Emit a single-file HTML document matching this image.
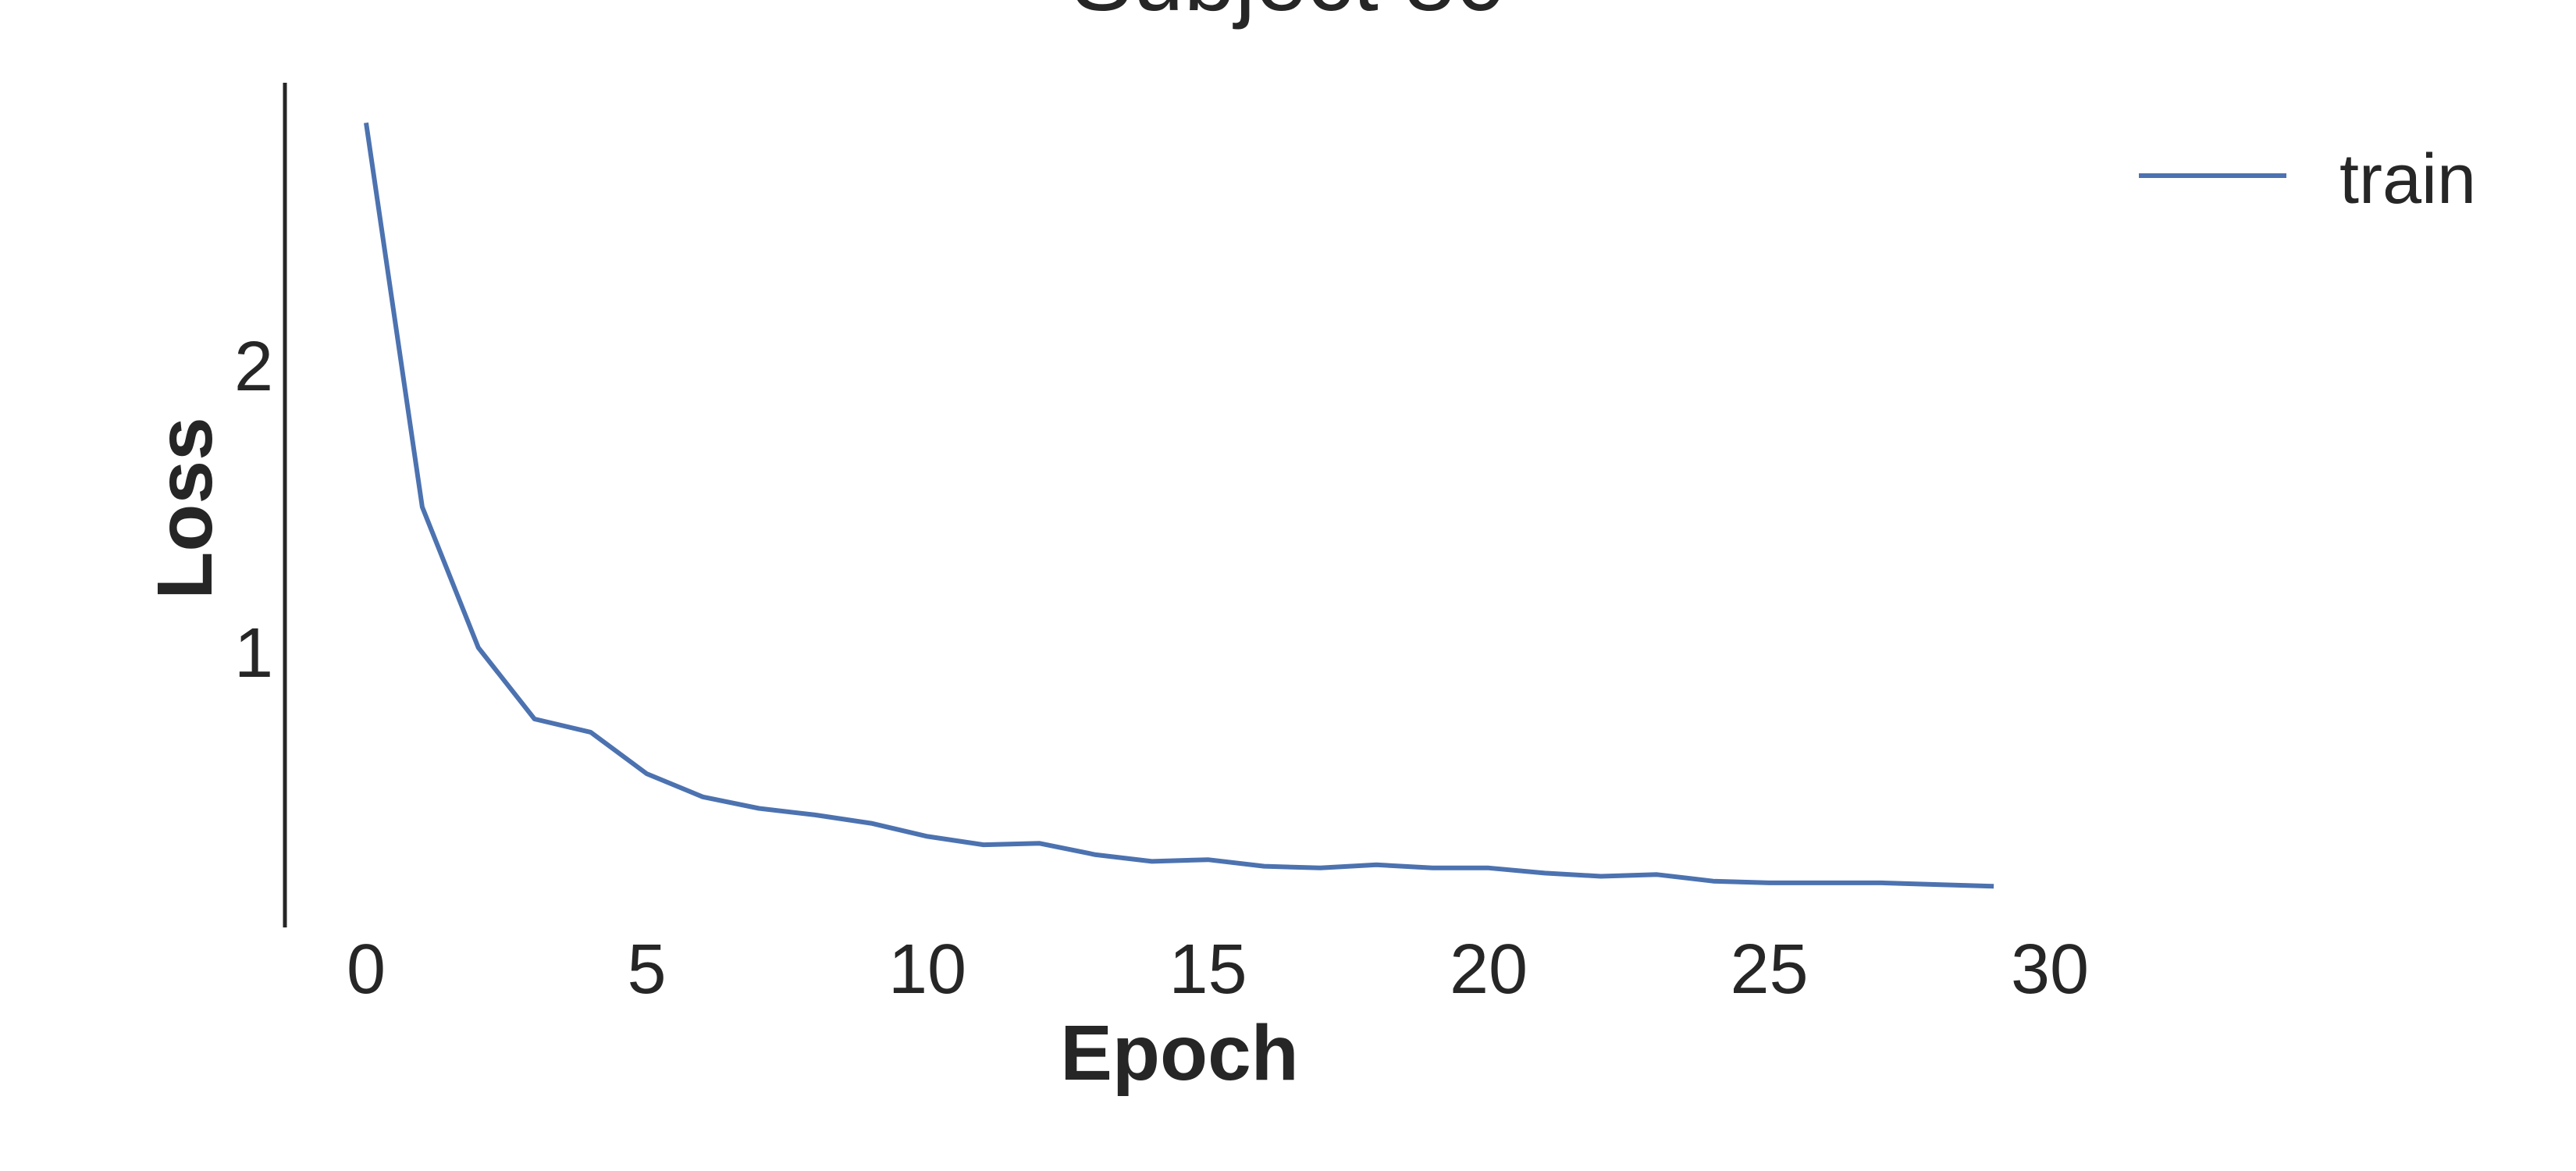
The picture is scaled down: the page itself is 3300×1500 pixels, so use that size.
<!DOCTYPE html>
<html><head><meta charset="utf-8"><style>
html,body{margin:0;padding:0;background:#fff;}
svg{display:block;}
text{font-family:"Liberation Sans",sans-serif;fill:#262626;}
</style></head><body>
<svg id="chart" width="3300" height="1500" viewBox="0 0 3300 1500" xmlns="http://www.w3.org/2000/svg">
<text x="1651" y="13" font-size="118" text-anchor="middle">Subject 80</text>
<line x1="365" y1="106" x2="365" y2="1188" stroke="#262626" stroke-width="5"/>
<g id="xticks"></g>
<g id="yticks"></g>
<text x="1511" y="1383" font-size="100" font-weight="bold" text-anchor="middle">Epoch</text>
<text x="271" y="651" font-size="100" font-weight="bold" text-anchor="middle" transform="rotate(-90 271 651)">Loss</text>
<polyline id="trainLine" fill="none" stroke="#4c72b0" stroke-width="6" stroke-linejoin="round"/>
<g>
<line x1="2740" y1="225" x2="2929" y2="225" stroke="#4c72b0" stroke-width="6"/>
<text x="2997" y="260" font-size="90">train</text>
</g>
</svg>
<script>
const epochs = [0,1,2,3,4,5,6,7,8,9,10,11,12,13,14,15,16,17,18,19,20,21,22,23,24,25,26,27,28,29];
const trainLoss = [2.844,1.503,1.012,0.763,0.717,0.572,0.491,0.451,0.428,0.399,0.353,0.324,0.329,0.289,0.266,0.272,0.249,0.243,0.254,0.243,0.243,0.225,0.214,0.220,0.197,0.191,0.191,0.191,0.185,0.179];
const xTicks = [0,5,10,15,20,25,30];
const yTicks = [1,2];

const NS = "http://www.w3.org/2000/svg";
function xScale(v){ return 469 + v * (2626 - 469) / 30; }
function yScale(v){ return 1201 - v * 367; }

const xg = document.getElementById('xticks');
xTicks.forEach(t => {
  const el = document.createElementNS(NS,'text');
  
  
  el.setAttribute('x', xScale(t));
  el.setAttribute('y', 1272);
  el.setAttribute('font-size', 90);
  el.setAttribute('text-anchor', 'middle');
  el.textContent = t;
  xg.appendChild(el);
});
const yg = document.getElementById('yticks');
yTicks.forEach(t => {
  const el = document.createElementNS(NS,'text');
  
  
  el.setAttribute('x', 350);
  el.setAttribute('y', yScale(t) + 33);
  el.setAttribute('font-size', 90);
  el.setAttribute('text-anchor', 'end');
  el.textContent = t;
  yg.appendChild(el);
});
document.getElementById('trainLine').setAttribute('points',
  epochs.map((e,i) => xScale(e).toFixed(1) + ',' + yScale(trainLoss[i]).toFixed(1)).join(' '));
</script>
</body></html>
